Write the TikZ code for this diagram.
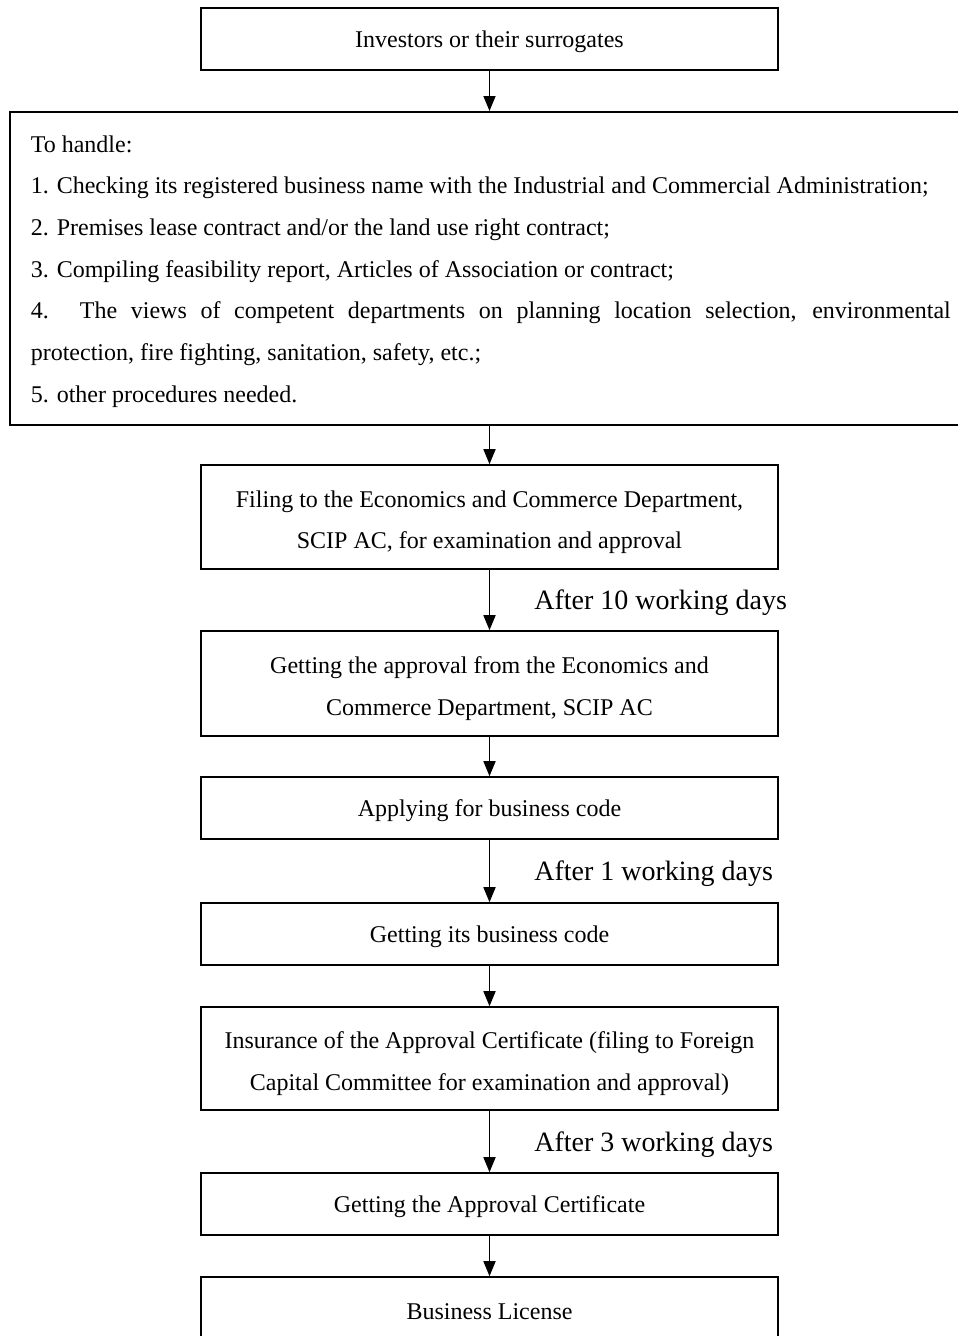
\documentclass[tikz,border=0pt]{standalone}
\usepackage{fontspec}
\setmainfont{Liberation Serif}
\usetikzlibrary{arrows.meta}
\newcommand\boxlift{\rule{0pt}{27pt}}

\begin{document}
\begin{tikzpicture}[x=1pt,y=-1pt,
    box/.style={draw,line width=1.6pt,minimum width=577pt,minimum height=62pt,align=center,
      font=\fontsize{24}{41.7}\selectfont,execute at begin node={\rule{0pt}{23pt}}},
    flow/.style={line width=1.6pt,-{Triangle[length=15pt,width=12pt]}},
    days/.style={right=44pt,yshift=-3pt,inner sep=0pt,font=\fontsize{28}{34}\selectfont}]
  \clip (0,0) rectangle (958,1336);
  \node[box] (investors) at (489.5,39) {Investors or their surrogates};
  \node[box,anchor=north west,text width=920pt,align=justify,inner xsep=21pt,
    minimum height=313pt] (handle) at (9,111)
    {To handle:\par
     1. Checking its registered business name with the Industrial and Commercial Administration;\par
     2. Premises lease contract and/or the land use right contract;\par
     3. Compiling feasibility report, Articles of Association or contract;\par
     4. The views of competent departments on planning location selection, environmental\linebreak
     protection, fire fighting, sanitation, safety, etc.;\par
     5. other procedures needed.};
  \node[box,minimum height=104pt] (filing) at (489.5,517)
    {\boxlift Filing to the Economics and Commerce Department,\\SCIP AC, for examination and approval};
  \node[box,minimum height=105pt] (approval) at (489.5,683.5)
    {\boxlift Getting the approval from the Economics and\\Commerce Department, SCIP AC};
  \node[box] (apply) at (489.5,808) {Applying for business code};
  \node[box] (code) at (489.5,934) {Getting its business code};
  \node[box,minimum height=103pt] (insurance) at (489.5,1058.5)
    {\boxlift Insurance of the Approval Certificate (filing to Foreign\\Capital Committee for examination and approval)};
  \node[box] (certificate) at (489.5,1204) {Getting the Approval Certificate};
  \node[box] (license) at (489.5,1308) {Business License};

  \draw[flow] (investors) -- (investors |- handle.north);
  \draw[flow] (investors |- handle.south) -- (filing);
  \draw[flow] (filing) -- node[days] {After 10 working days} (approval);
  \draw[flow] (approval) -- (apply);
  \draw[flow] (apply) -- node[days] {After 1 working days} (code);
  \draw[flow] (code) -- (insurance);
  \draw[flow] (insurance) -- node[days] {After 3 working days} (certificate);
  \draw[flow] (certificate) -- (license);
\end{tikzpicture}
\end{document}
